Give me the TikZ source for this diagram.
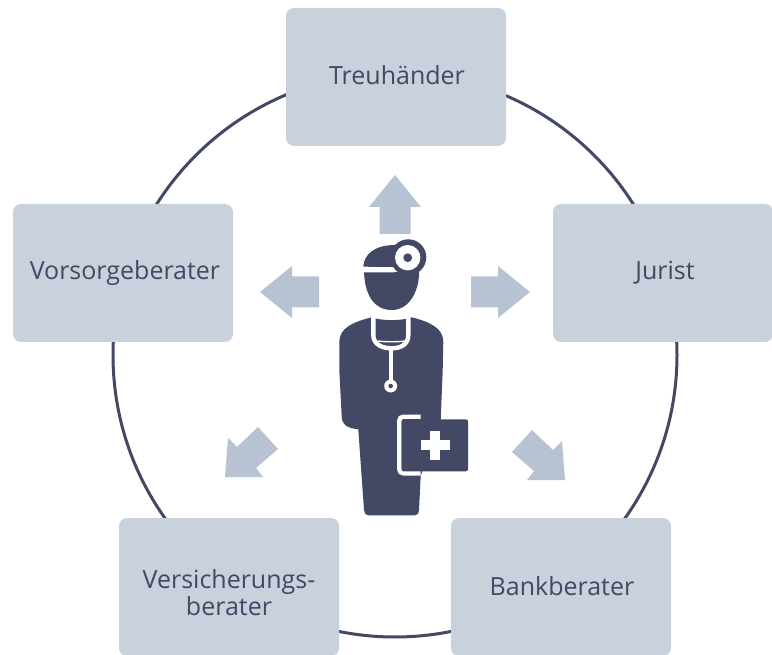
\documentclass[tikz,border=0pt]{standalone}
\usepackage{fontspec}
\setmainfont{Open Sans}
\definecolor{slatedark}{HTML}{434864}
\definecolor{boxfill}{HTML}{C8D1DC}
\definecolor{arrowfill}{HTML}{B7C2D2}
\tikzset{
  advisor/.style={fill=boxfill, rounded corners=8pt, minimum width=220pt, minimum height=138pt,
    inner sep=0pt, align=center, text=slatedark, font=\fontsize{25}{27}\selectfont},
  cutout/.style={draw=white, line width=4.4pt},
  pics/blockarrow/.style={
    code={
      \fill[arrowfill] (0,0) -- (26,32) -- (15.5,32) -- (15.5,59) -- (-15.5,59) -- (-15.5,32) -- (-26,32) -- cycle;
    }
  },
  pics/slantarrow/.style={
    code={
      \fill[arrowfill] (0,0) -- (3,-39) -- (12,-30) -- (33,-50) -- (53,-28) -- (31,-9) -- (38,0) -- cycle;
    }
  }
}
\begin{document}
\begin{tikzpicture}[x=1pt,y=-1pt]
  \useasboundingbox (0,0) rectangle (772,655);
  \node (ring) [draw=slatedark, line width=3pt, circle, minimum size=564pt, inner sep=0pt] at (395,355) {};

  \node (treuhaender) [advisor] at (396,77) {\raisebox{4pt}{\hspace*{2pt}Treuhänder}};
  \node (jurist) [advisor] at (663,273) {\raisebox{-4pt}{\hspace*{4pt}Jurist}};
  \node (vorsorge) [advisor] at (123,273) {\raisebox{-4pt}{\hspace*{4pt}Vorsorgeberater}};
  \node (versicherung) [advisor] at (229,587) {\raisebox{-15.5pt}[0pt][0pt]{\begin{tabular}{@{}c@{}}Versicherungs-\\[-0.5pt]berater\end{tabular}}};
  \node (bank) [advisor] at (561,587) {\raisebox{1pt}{\hspace*{2pt}Bankberater}};

  \draw pic at (395,175) {blockarrow};
  \draw pic [rotate=-90] at (530,292) {blockarrow};
  \draw pic [rotate=90] at (260,292) {blockarrow};
  \draw pic at (225,477) {slantarrow};
  \draw pic [xscale=-1] at (565,480) {slantarrow};

  % head
  \fill[slatedark] (363.3,266.7) .. controls (364,254) and (375,245) .. (395,245) -- (408,245) -- (394,267) -- cycle;
  \fill[slatedark] (364,272.3) -- (394,272.3) -- (419,270) -- (419,273.3)
    .. controls (419,290) and (410,310) .. (391.7,310)
    .. controls (374,310) and (365,295) .. (364,272.3) -- cycle;
  \fill[slatedark] (408.3,257.3) circle (18);
  \fill[white] (407.7,257.7) circle (12.7);
  \fill[slatedark] (407.7,257.7) circle (4.4);

  % body
  \fill[slatedark] (371.7,317.3) .. controls (380,321) and (403,321) .. (411.7,317.3)
    .. controls (430,322) and (443.3,328) .. (443.3,342) -- (442.7,370) -- (440.7,420)
    -- (420.7,475.7) -- (419,510) .. controls (419,513) and (418,515.3) .. (415,515.3)
    -- (368.3,515.3) .. controls (365.5,515.3) and (364.3,513) .. (364,510) -- (358.3,429.3)
    .. controls (347,428) and (342,425) .. (341.7,416.7) -- (339.3,370) -- (339.3,342)
    .. controls (339.3,328) and (353,322) .. (371.7,317.3) -- cycle;
  % stethoscope
  \draw[cutout] (373.3,315) -- (373.3,335) .. controls (373.3,345) and (383,348.3) .. (391.7,348.3)
    .. controls (400,348.3) and (408.3,345) .. (408.3,335) -- (408.3,315);
  \draw[draw=white, line width=1.4pt] (378,341) .. controls (384,342) and (399,342) .. (405,341);
  \draw[draw=white, line width=4pt] (391.2,348) -- (391.2,382);
  \fill[white] (390.7,386) circle (6.5);
  \fill[slatedark] (390.7,386) circle (2.3);

  % case
  \draw[cutout, rounded corners=4pt] (420.7,416.7) -- (399.3,416.7) -- (399.3,473.3) -- (420.7,473.3);
  \fill[slatedark, rounded corners=2pt] (401.7,419.3) rectangle (468,471.3);
  \fill[white] (420.5,440.3) rectangle (449.5,450.3);
  \fill[white] (430,430.8) rectangle (440,459.8);
\end{tikzpicture}
\end{document}
